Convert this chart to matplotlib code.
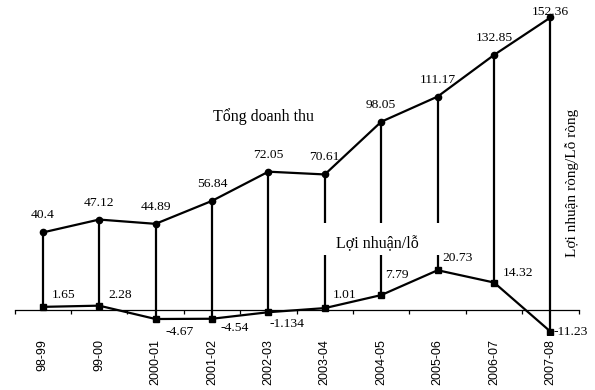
import matplotlib.pyplot as plt
import matplotlib.patches as mpatches
import numpy as np

# du lieu
nam = ['98-99', '99-00', '2000-01', '2001-02', '2002-03',
       '2003-04', '2004-05', '2005-06', '2006-07', '2007-08']
doanh_thu = [40.4, 47.12, 44.89, 56.84, 72.05, 70.61, 98.05, 111.17, 132.85, 152.36]
loi_nhuan = [1.65, 2.28, -4.67, -4.54, -1.134, 1.01, 7.79, 20.73, 14.32, -11.23]
nhan_dt = ['40.4', '47.12', '44.89', '56.84', '72.05', '70.61', '98.05', '111.17', '132.85', '152.36']
nhan_ln = ['1.65', '2.28', '-4.67', '-4.54', '-1.134', '1.01', '7.79', '20.73', '14.32', '-11.23']

# vi tri nhan (pixel)
off_dt = [(0, 17)] * 9 + [(0, 5)]
off_ln = [(9, 12), (9, 11), (10, -13), (9, -9), (1, -12),
          (8, 13), (4, 20), (5, 12), (9, 10), (3, 0)]

serif = 'Liberation Serif'
fig = plt.figure(figsize=(5.95, 3.9), dpi=100)
ax = fig.add_axes([14.5 / 595, 55 / 390, 564.2 / 595, 325 / 390])
x = np.arange(len(nam))

ax.vlines(x, loi_nhuan, doanh_thu, colors='black', lw=1.6, zorder=2)
ax.plot(x, doanh_thu, color='black', lw=1.6, marker='o', ms=4.5, zorder=4)
ax.plot(x, loi_nhuan, color='black', lw=1.6, marker='s', ms=3.8, zorder=4)

for i in range(len(x)):
    ax.annotate(nhan_dt[i], (x[i], doanh_thu[i]), xytext=off_dt[i],
                textcoords='offset pixels', ha='center', va='center',
                family=serif, fontsize=9.7, zorder=6)
    ax.annotate(nhan_ln[i], (x[i], loi_nhuan[i]), xytext=off_ln[i],
                textcoords='offset pixels', ha='left', va='center',
                family=serif, fontsize=9.7, zorder=6)

# nen trang cho chu "Loi nhuan/lo"
ax.add_patch(mpatches.Rectangle((4.8, 28.5), 2.4, 17, fc='white', ec='none', zorder=3))
ax.text(5.2, 34.5, 'Lợi nhuận/lỗ', family=serif, fontsize=11.5, va='center', ha='left', zorder=5)
ax.text(3.02, 100.5, 'Tổng doanh thu', family=serif, fontsize=11.5, va='center', ha='left')

ax.set_xlim(-0.5, 9.5)
ax.set_ylim(-13.0, 156.25)
for s in ['left', 'right', 'top']:
    ax.spines[s].set_visible(False)
ax.spines['bottom'].set_position(('data', 0))
ax.spines['bottom'].set_linewidth(0.9)
ax.set_yticks([])
ax.set_xticks(x)
ax.set_xticklabels(nam, rotation=90, family='Liberation Sans', fontsize=9, va='top')
ax.tick_params(axis='x', which='major', length=0, pad=21)
ax.set_xticks(np.arange(-0.5, 10, 1), minor=True)
ax.tick_params(axis='x', which='minor', length=3, width=0.9, direction='out')

fig.text(572 / 595, 1 - 183 / 390, 'Lợi nhuận ròng/Lỗ ròng', rotation=90,
         family=serif, fontsize=11, ha='center', va='center')

fig.savefig('out.png', dpi=100)
